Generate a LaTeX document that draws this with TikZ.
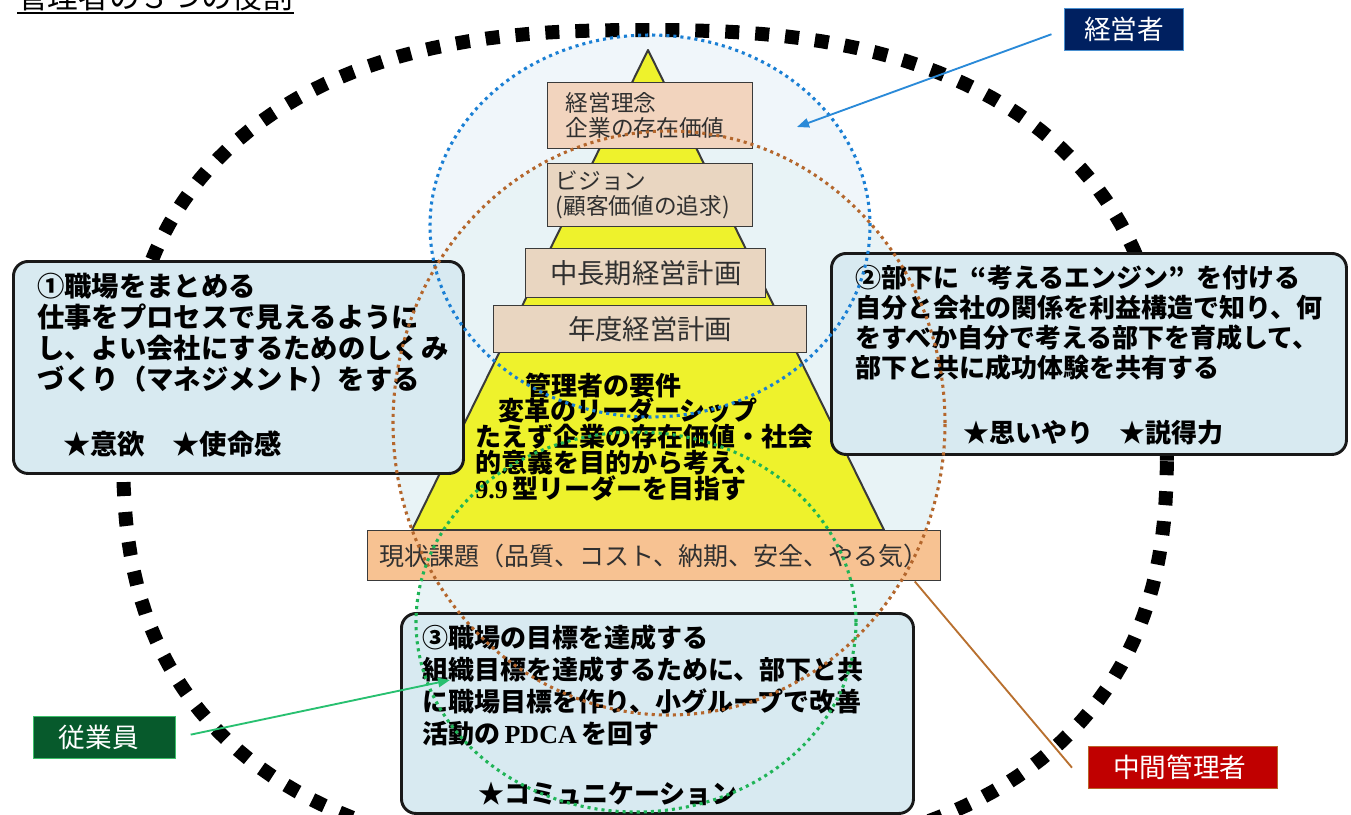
\documentclass[tikz,border=0pt]{standalone}
\usepackage{fontspec}
\setmainfont{Liberation Serif}
\newfontfamily\jp{Noto Sans CJK JP}
\usetikzlibrary{arrows.meta}
\definecolor{tboxFill}{HTML}{D8EAF1}
\definecolor{yel}{HTML}{EEF22C}
\definecolor{pTop}{HTML}{F2D4BE}
\definecolor{pMid}{HTML}{E9D6C1}
\definecolor{pBot}{HTML}{F7C292}
\definecolor{cBlue}{HTML}{1A7FD4}
\definecolor{cBrown}{HTML}{B4662C}
\definecolor{cGreen}{HTML}{1FB457}
\definecolor{fBlue}{HTML}{F0F6FA}
\definecolor{fIn}{HTML}{E8F3F6}
\definecolor{navy}{HTML}{002060}
\definecolor{navyLine}{HTML}{4A90D0}
\definecolor{dgreen}{HTML}{075A2C}
\definecolor{dgreenLine}{HTML}{3CC06A}
\definecolor{dred}{HTML}{C00000}
\definecolor{dredLine}{HTML}{B8652A}
\definecolor{arrBlue}{HTML}{2A8AD8}
\definecolor{arrGreen}{HTML}{28C070}
\definecolor{lnBrown}{HTML}{B8702F}
\definecolor{pLine}{HTML}{3A3A3A}
\definecolor{pText}{HTML}{303030}
\newcommand{\fontLeftBox}{\jp\bfseries\fontsize{20.5pt}{24pt}\selectfont}
\newcommand{\fontRightBox}{\jp\bfseries\fontsize{19.5pt}{23pt}\selectfont}
\newcommand{\fontPyr}{\jp\bfseries\fontsize{19.5pt}{23pt}\selectfont}
\tikzset{
  tbox/.style={draw=black!90, line width=2.2pt, rounded corners=11pt, fill=tboxFill, anchor=north west, inner sep=0pt},
  pbox/.style={draw=pLine, line width=1.1pt, fill=pMid, text=pText, anchor=north west, inner sep=0pt},
  txt/.style={anchor=base west, inner sep=0pt, text=black},
  lab/.style={anchor=north west, minimum height=31.5pt, line width=1pt, text=white, inner sep=0pt, font=\jp\fontsize{20pt}{24pt}\selectfont},
  dotline/.style={line width=2.3pt, dash pattern=on 2.3pt off 3pt},
  bigdots/.style={line width=10.5pt, dash pattern=on 10.5pt off 12pt},
  tip/.style={-{Triangle[length=9pt,width=7pt]}}
}
\begin{document}
\begin{tikzpicture}[x=0.75pt,y=-0.75pt]
\useasboundingbox (0,0) rectangle (1351,814);

% light fills of the three role circles
\fill[fBlue] (650,226) ellipse [x radius=165pt, y radius=143.25pt];
\fill[fIn] (669,423) ellipse [x radius=207pt, y radius=219pt];
\fill[fIn] (636,622) ellipse [x radius=165pt, y radius=142.5pt];

% big dotted outline
\draw[bigdots] plot[domain=1:361, samples=181]
  ({645+522*cos(\x)*pow(abs(cos(\x)),-0.2)}, {445+415*sin(\x)*pow(abs(sin(\x)),-0.2)});

% pyramid
\draw[fill=yel, draw=pLine, line width=1.5pt, line join=round] (648,50) -- (884,530) -- (412,530) -- cycle;

% pyramid boxes
\node[pbox, fill=pTop, minimum width=153.75pt, minimum height=49.5pt, inner xsep=13.5pt,
      text width=126.75pt, align=left, font=\jp\fontsize{17pt}{18.75pt}\selectfont]
  (rinen) at (547,82) {経営理念\\企業の存在価値};
\node[pbox, minimum width=153.75pt, minimum height=47.25pt, inner xsep=6pt,
      text width=141.75pt, align=left, font=\jp\fontsize{17pt}{18.75pt}\selectfont]
  (vision) at (547,163) {ビジョン\\(顧客価値の追求)};
\node[pbox, minimum width=180pt, minimum height=36.75pt, font=\jp\fontsize{20.5pt}{24pt}\selectfont]
  (chuki) at (525,248) {中長期経営計画};
\node[pbox, minimum width=234.75pt, minimum height=35.25pt, font=\jp\fontsize{20.5pt}{24pt}\selectfont]
  (nendo) at (493,305) {年度経営計画};
\node[pbox, fill=pBot, minimum width=429.75pt, minimum height=37.5pt, font=\jp\fontsize{18.75pt}{22pt}\selectfont]
  (genjo) at (367,530) {現状課題（品質、コスト、納期、安全、やる気）};

% pyramid text
\foreach \xx/\yy/\t [count=\i] in {525/395/管理者の要件, 498/420/変革のリーダーシップ,
    475/446/たえず企業の存在価値・社会, 475/472/的意義を目的から考え、,
    475/498/{{\rmfamily\bfseries 9.9}\,型リーダーを目指す}}
  \node[txt, font=\fontPyr] (py\i) at (\xx,\yy) {\t};

% three role boxes
\node[tbox, minimum width=337.5pt, minimum height=159pt] (boxA) at (12,260) {};
\node[tbox, minimum width=386.25pt, minimum height=150.75pt] (boxB) at (830,252) {};
\node[tbox, minimum width=384pt, minimum height=150pt] (boxC) at (400,612) {};

\foreach \t [count=\i from 0] in {①職場をまとめる, 仕事をプロセスで見えるように,
    し、よい会社にするためのしくみ, づくり（マネジメント）をする}
  \node[txt, font=\fontLeftBox] (la\i) at (37,{296+31*\i}) {\t};
\node[txt, font=\fontLeftBox] (laStar) at (63,454) {★意欲　★使命感};

\foreach \t [count=\i from 0] in {{②部下に\hspace{0.45em}“考えるエンジン”\hspace{0.45em}を付ける}, 自分と会社の関係を利益構造で知り、何,
    をすべか自分で考える部下を育成して、, 部下と共に成功体験を共有する}
  \node[txt, font=\fontRightBox] (lb\i) at (855,{287+30*\i}) {\t};
\node[txt, font=\fontRightBox] (lbStar) at (963,442) {★思いやり　★説得力};

\foreach \t [count=\i from 0] in {③職場の目標を達成する, 組織目標を達成するために、部下と共,
    に職場目標を作り、小グループで改善, {活動の\,{\rmfamily\bfseries PDCA}\,を回す}}
  \node[txt, font=\fontRightBox] (lc\i) at (422,{647+32*\i}) {\t};
\node[txt, font=\fontRightBox] (lcStar) at (478,803) {★コミュニケーション};

% dotted circle outlines
\draw[dotline, cBlue] (650,226) ellipse [x radius=165pt, y radius=143.25pt];
\draw[dotline, cBrown] (669,423) ellipse [x radius=207pt, y radius=219pt];
\draw[dotline, cGreen] (636,622) ellipse [x radius=165pt, y radius=142.5pt];

% title
\node[anchor=base west, inner sep=0pt, font=\jp\fontsize{23pt}{23pt}\selectfont] (title) at (17,8) {管理者の３つの役割};
\draw[line width=1.3pt] ([yshift=-4pt]title.base west) -- ([yshift=-4pt]title.base east);

% labels
\node[lab, fill=navy, draw=navyLine, minimum width=89.25pt] (keiei) at (1064,8) {経営者};
\node[lab, fill=dgreen, draw=dgreenLine, minimum width=106.5pt] (jugyo) at (33,716) {従業員\hspace*{9pt}};
\node[lab, fill=dred, draw=dredLine, minimum width=141.75pt] (chukan) at (1088,746) {中間管理者\hspace*{5pt}};

\coordinate (keieiTip) at (797,127);
\coordinate (jugyoTip) at (450,680);
\draw[arrBlue, line width=1.4pt, tip, shorten <=10pt] (keiei.west) -- (keieiTip);
\draw[arrGreen, line width=1.4pt, tip, shorten <=11pt] (jugyo.east) -- (jugyoTip);
\draw[lnBrown, line width=1.4pt] ([xshift=-20pt]genjo.south east) -- ([xshift=-12pt]chukan.west);
\end{tikzpicture}
\end{document}
